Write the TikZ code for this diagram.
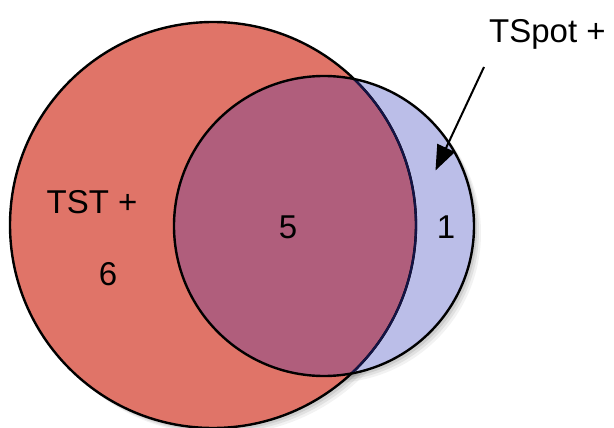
\documentclass[tikz,border=0pt]{standalone}
\usepackage{fontspec}
\setmainfont{Liberation Sans}
\usetikzlibrary{arrows.meta}
\definecolor{tstred}{RGB}{224,116,104}
\definecolor{spotblue}{RGB}{187,190,232}
\definecolor{overlap}{RGB}{176,94,124}
\definecolor{navyedge}{RGB}{20,20,70}
\begin{document}
\begin{tikzpicture}[x=1pt,y=-1pt,
  edge/.style={line width=2.4pt,black},
  lbl/.style={font=\fontsize{33}{36}\selectfont,inner sep=0pt,anchor=base},
  pointer/.style={line width=2pt,-{Triangle[length=25pt,width=19pt]}}]
\useasboundingbox (0,0) rectangle (614,428);
% soft shadows
\foreach \o/\a in {7/0.05,5/0.07,3/0.09}{
  \fill[black,opacity=\a] (213+\o,225+\o) circle[radius=203];
  \fill[black,opacity=\a] (324+\o,226+\o) circle[radius=150];
}
\fill[white] (213,225) circle[radius=203];
\fill[white] (324,226) circle[radius=150];
% fills
\fill[tstred] (213,225) circle[radius=203];
\fill[spotblue] (324,226) circle[radius=150];
\begin{scope}
  \clip (324,226) circle[radius=150];
  \fill[overlap] (213,225) circle[radius=203];
\end{scope}
% outlines
\draw[edge] (213,225) circle[radius=203];
\draw[edge] (324,226) circle[radius=150];
\begin{scope}
  \clip (324,226) circle[radius=148.8];
  \draw[line width=2.2pt,navyedge] (213,225) circle[radius=203];
\end{scope}
% labels
\node[lbl] (tst) at (92,213) {TST +};
\node[lbl] (six) at (108,285) {6};
\node[lbl] (five) at (288,238) {5};
\node[lbl] (one) at (446,238) {1};
\node[lbl,anchor=base west] (tspot) at (489,43) {TSpot +};
\coordinate (arrstart) at (484,67);
\coordinate (arrtip) at (435.5,170.5);
\draw[pointer] (arrstart) -- (arrtip);
\end{tikzpicture}
\end{document}
